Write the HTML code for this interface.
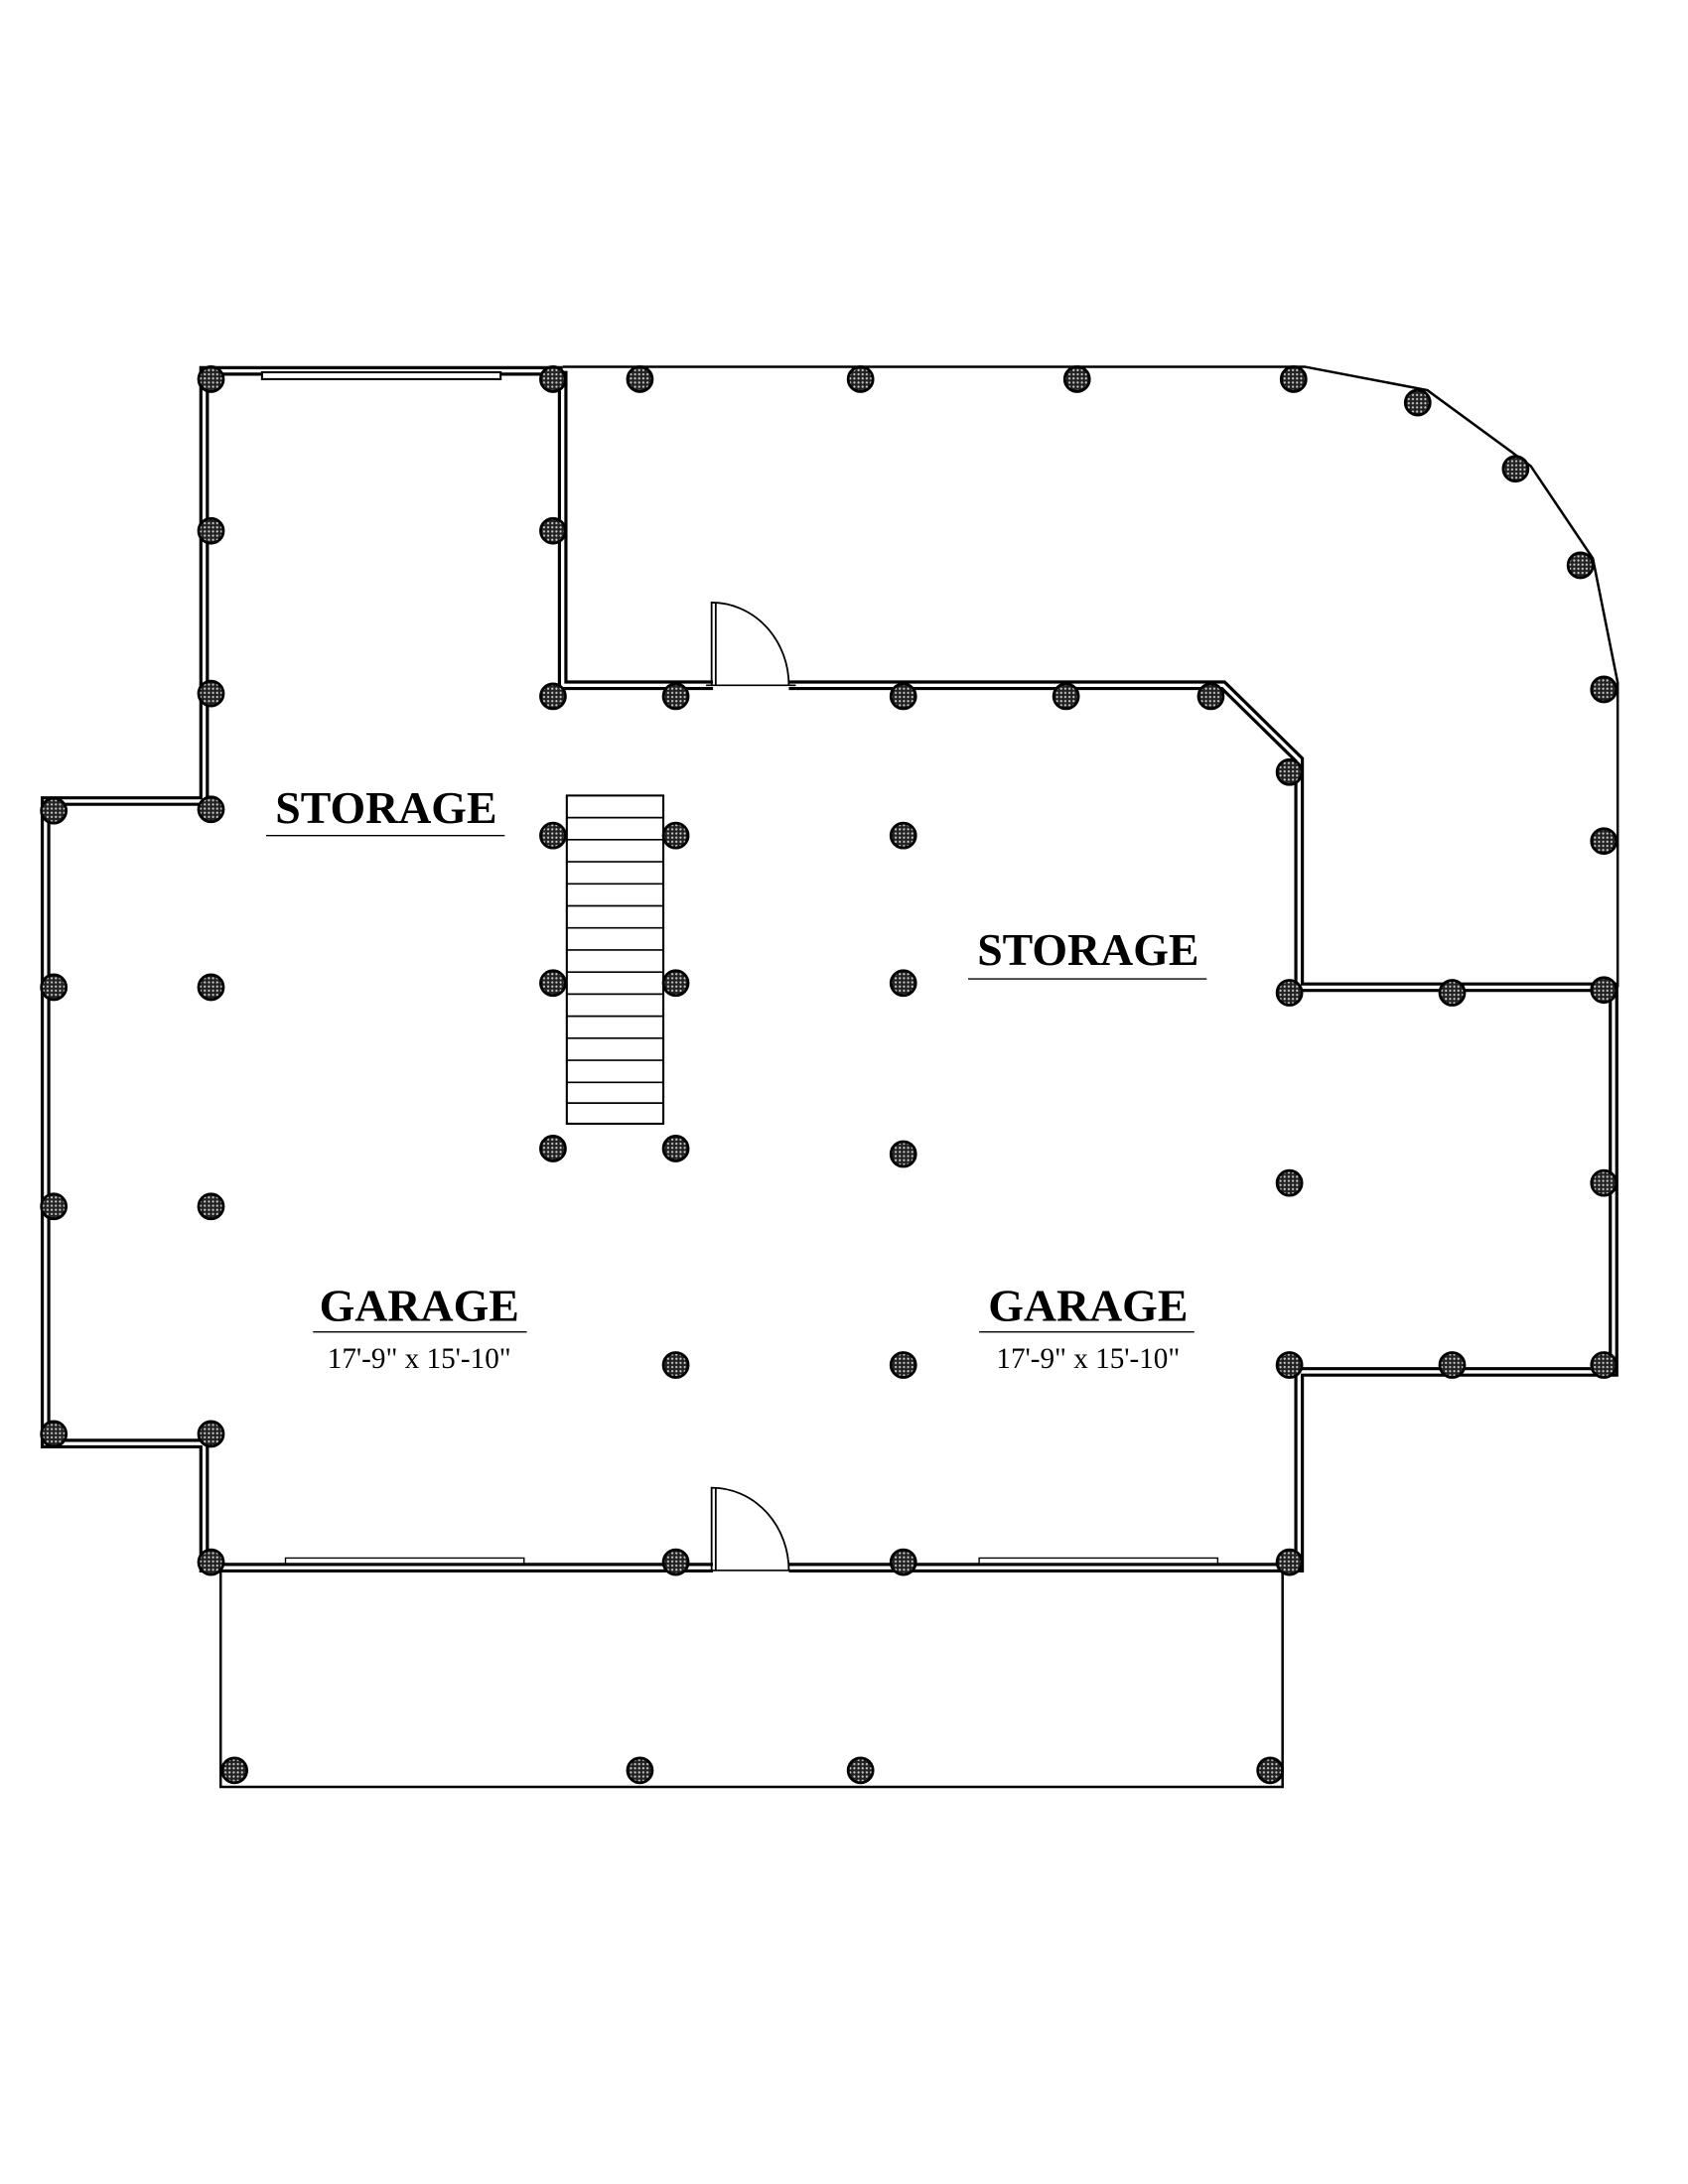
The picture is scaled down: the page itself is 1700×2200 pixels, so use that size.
<!DOCTYPE html>
<html><head><meta charset="utf-8"><style>
html,body{margin:0;padding:0;background:#fff;}
svg{display:block;}
text{font-family:"Liberation Serif",serif;fill:#000;}
</style></head><body>
<svg width="1700" height="2200" viewBox="0 0 1224 1584" xmlns="http://www.w3.org/2000/svg">
<defs>
<pattern id="dots" width="3" height="3" patternUnits="userSpaceOnUse">
<rect width="3" height="3" fill="#222"/><circle cx="1.5" cy="1.5" r="0.8" fill="#ccc"/>
</pattern>
</defs>
<g fill="none" stroke-linejoin="miter">
<polyline points="408,269 148,269 148,581 33,581 33,1047 148,1047 148,1137 942,1137 942,995 1170,995 1170,716 942,716 942,551 887,497 408,497 408,269" stroke="#000" stroke-width="7"/>
<polyline points="408,269 148,269 148,581 33,581 33,1047 148,1047 148,1137 942,1137 942,995 1170,995 1170,716 942,716 942,551 887,497 408,497 408,269" stroke="#fff" stroke-width="2.4"/>
<polyline points="408,266 946,266 1035,283 1110,338 1155,405 1173,495 1173,716" stroke="#000" stroke-width="1.8"/>
<polyline points="160,1140 160,1296 930,1296 930,1140" stroke="#000" stroke-width="1.8"/>
<rect x="517" y="492" width="55" height="10" fill="#fff" stroke="none"/>
<rect x="517" y="1132" width="55" height="10" fill="#fff" stroke="none"/>
<line x1="512" y1="497" x2="577" y2="497" stroke="#000" stroke-width="1.2"/>
<line x1="512" y1="1139" x2="577" y2="1139" stroke="#000" stroke-width="1.2"/>
<path d="M516,497 V437 A56,60 0 0 1 572,497" stroke="#000" stroke-width="1.3"/>
<line x1="519" y1="497" x2="519" y2="437" stroke="#000" stroke-width="1.3"/>
<path d="M516,1139 V1079 A56,60 0 0 1 572,1139" stroke="#000" stroke-width="1.3"/>
<line x1="519" y1="1139" x2="519" y2="1079" stroke="#000" stroke-width="1.3"/>
<rect x="190" y="270" width="173" height="5" fill="#fff" stroke="#000" stroke-width="1.5"/>
<rect x="207" y="1130" width="173" height="4" fill="#fff" stroke="#000" stroke-width="1"/>
<rect x="710" y="1130" width="173" height="4" fill="#fff" stroke="#000" stroke-width="1"/>
<rect x="411" y="577" width="70" height="238" fill="#fff" stroke="#000" stroke-width="1.5"/>
<g stroke="#000" stroke-width="1.2">
<line x1="411" y1="593" x2="481" y2="593"/><line x1="411" y1="609" x2="481" y2="609"/>
<line x1="411" y1="625" x2="481" y2="625"/><line x1="411" y1="641" x2="481" y2="641"/>
<line x1="411" y1="657" x2="481" y2="657"/><line x1="411" y1="673" x2="481" y2="673"/>
<line x1="411" y1="689" x2="481" y2="689"/><line x1="411" y1="705" x2="481" y2="705"/>
<line x1="411" y1="721" x2="481" y2="721"/><line x1="411" y1="737" x2="481" y2="737"/>
<line x1="411" y1="753" x2="481" y2="753"/><line x1="411" y1="769" x2="481" y2="769"/>
<line x1="411" y1="785" x2="481" y2="785"/><line x1="411" y1="800" x2="481" y2="800"/>
</g>
</g>
<g fill="url(#dots)" stroke="#000" stroke-width="2">
<circle cx="153" cy="275" r="9"/><circle cx="401" cy="275" r="9"/><circle cx="464" cy="275" r="9"/><circle cx="624" cy="275" r="9"/><circle cx="781" cy="275" r="9"/><circle cx="938" cy="275" r="9"/>
<circle cx="1028" cy="292" r="9"/><circle cx="1099" cy="340" r="9"/><circle cx="1146" cy="410" r="9"/><circle cx="1163" cy="500" r="9"/><circle cx="1163" cy="610" r="9"/><circle cx="1163" cy="718" r="9"/>
<circle cx="1053" cy="720" r="9"/><circle cx="935" cy="720" r="9"/><circle cx="935" cy="560" r="9"/><circle cx="878" cy="505" r="9"/><circle cx="773" cy="505" r="9"/><circle cx="655" cy="505" r="9"/><circle cx="490" cy="505" r="9"/><circle cx="401" cy="505" r="9"/>
<circle cx="401" cy="385" r="9"/><circle cx="153" cy="385" r="9"/><circle cx="153" cy="503" r="9"/><circle cx="153" cy="587" r="9"/><circle cx="39" cy="588" r="9"/>
<circle cx="39" cy="716" r="9"/><circle cx="153" cy="716" r="9"/><circle cx="39" cy="875" r="9"/><circle cx="153" cy="875" r="9"/><circle cx="39" cy="1040" r="9"/><circle cx="153" cy="1040" r="9"/>
<circle cx="153" cy="1133" r="9"/><circle cx="490" cy="1133" r="9"/><circle cx="655" cy="1133" r="9"/><circle cx="935" cy="1133" r="9"/>
<circle cx="935" cy="990" r="9"/><circle cx="1053" cy="990" r="9"/><circle cx="1163" cy="990" r="9"/><circle cx="1163" cy="858" r="9"/><circle cx="935" cy="858" r="9"/>
<circle cx="401" cy="606" r="9"/><circle cx="490" cy="606" r="9"/><circle cx="655" cy="606" r="9"/>
<circle cx="401" cy="713" r="9"/><circle cx="490" cy="713" r="9"/><circle cx="655" cy="713" r="9"/>
<circle cx="401" cy="833" r="9"/><circle cx="490" cy="833" r="9"/><circle cx="655" cy="837" r="9"/>
<circle cx="490" cy="990" r="9"/><circle cx="655" cy="990" r="9"/>
<circle cx="170" cy="1284" r="9"/><circle cx="464" cy="1284" r="9"/><circle cx="624" cy="1284" r="9"/><circle cx="921" cy="1284" r="9"/>
</g>
<g text-anchor="middle" font-weight="bold">
<text x="280" y="597" font-size="33">STORAGE</text>
<text x="789" y="700" font-size="33">STORAGE</text>
<text x="304" y="958" font-size="33">GARAGE</text>
<text x="789" y="958" font-size="33">GARAGE</text>
<text x="304" y="992" font-size="21" font-weight="normal">17'-9" x 15'-10"</text>
<text x="789" y="992" font-size="21" font-weight="normal">17'-9" x 15'-10"</text>
</g>
<g stroke="#000" stroke-width="1">
<line x1="193" y1="606" x2="366" y2="606"/>
<line x1="702" y1="710" x2="875" y2="710"/>
<line x1="227" y1="966" x2="382" y2="966"/>
<line x1="710" y1="966" x2="866" y2="966"/>
</g>
</svg>
</body></html>
